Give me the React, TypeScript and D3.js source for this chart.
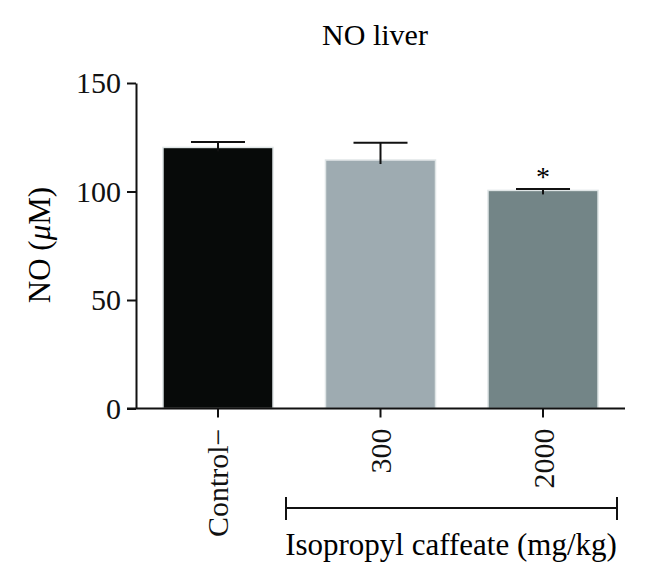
import React, { useEffect, useRef } from "react";
import * as d3 from "d3";

// Data
const groups = ["Control\u2212", "300", "2000"];
const means = [120.3, 114.5, 100.5];
const errors = [2.5, 8, 0.6];
const barColors = ["#070a09", "#9eabb1", "#738587"];
const significant = [false, false, true];
const yTicks = [0, 50, 100, 150];

const App = () => {
  const svgRef = useRef<SVGSVGElement | null>(null);

  useEffect(() => {
    if (!svgRef.current) return;

    const width = 646;
    const height = 584;
    const font = "'Liberation Serif', 'DejaVu Serif', serif";

    const svg = d3.select(svgRef.current);
    svg.selectAll("*").remove();
    svg
      .attr("width", width)
      .attr("height", height)
      .style("background", "#fff")
      .style("position", "absolute")
      .style("left", "0px")
      .style("top", "0px");

    const x = d3
      .scaleBand()
      .domain(groups)
      .range([136, 625])
      .paddingInner(0.323)
      .paddingOuter(0.166);

    const y = d3.scaleLinear().domain([0, 150]).range([408.5, 83]);

    // title
    svg
      .append("text")
      .attr("x", 375)
      .attr("y", 45)
      .attr("text-anchor", "middle")
      .style("font-family", font)
      .style("font-size", "30px")
      .text("NO liver");

    // bars
    svg
      .selectAll(".bar")
      .data(groups)
      .enter()
      .append("rect")
      .attr("x", (d) => x(d)!)
      .attr("y", (d, i) => y(means[i]))
      .attr("width", x.bandwidth())
      .attr("height", (d, i) => y(0) - y(means[i]))
      .attr("fill", (d, i) => barColors[i])
      .attr("stroke", "#dfe5e6")
      .attr("stroke-width", 1.5);

    // error bars (upper half)
    const capW = 54;
    groups.forEach((g, i) => {
      const cx = x(g)! + x.bandwidth() / 2;
      const top = y(means[i] + errors[i]);
      svg
        .append("line")
        .attr("x1", cx)
        .attr("x2", cx)
        .attr("y1", y(means[i]) + 4)
        .attr("y2", top)
        .attr("stroke", "#111")
        .attr("stroke-width", 2);
      svg
        .append("line")
        .attr("x1", cx - capW / 2)
        .attr("x2", cx + capW / 2)
        .attr("y1", top)
        .attr("y2", top)
        .attr("stroke", "#111")
        .attr("stroke-width", 2);
      if (significant[i]) {
        svg
          .append("text")
          .attr("x", cx)
          .attr("y", top - 3)
          .attr("text-anchor", "middle")
          .style("font-family", font)
          .style("font-size", "28px")
          .text("*");
      }
    });

    // y axis
    const yAxis = svg
      .append("g")
      .attr("transform", "translate(136,0)")
      .call(d3.axisLeft(y).tickValues(yTicks).tickSize(9).tickSizeOuter(0).tickPadding(6));
    yAxis.select(".domain").attr("stroke", "#111").attr("stroke-width", 2);
    yAxis.selectAll(".tick line").attr("stroke", "#111").attr("stroke-width", 2);
    yAxis
      .selectAll(".tick text")
      .attr("fill", "#111")
      .style("font-family", font)
      .style("font-size", "30px");

    // x axis
    const xAxis = svg
      .append("g")
      .attr("transform", `translate(0,${y(0)})`)
      .call(d3.axisBottom(x).tickSize(9).tickSizeOuter(0));
    xAxis.select(".domain").remove();
    xAxis.selectAll(".tick line").attr("stroke", "#111").attr("stroke-width", 2);
    xAxis
      .selectAll(".tick text")
      .attr("fill", "#111")
      .attr("transform", "rotate(-90)")
      .attr("text-anchor", "end")
      .attr("x", -20)
      .attr("y", 0)
      .attr("dy", "0.35em")
      .style("font-family", font)
      .style("font-size", "30px");
    svg
      .append("line")
      .attr("x1", 127)
      .attr("x2", 625)
      .attr("y1", y(0))
      .attr("y2", y(0))
      .attr("stroke", "#111")
      .attr("stroke-width", 2);

    // y label
    const yLabel = svg
      .append("text")
      .attr("transform", "translate(50,245) rotate(-90)")
      .attr("text-anchor", "middle")
      .style("font-family", font)
      .style("font-size", "31px");
    yLabel.append("tspan").text("NO (");
    yLabel.append("tspan").style("font-style", "italic").text("\u03bc");
    yLabel.append("tspan").text("M)");

    // dose bracket
    const bx1 = 286;
    const bx2 = 617;
    const by = 508;
    svg
      .append("path")
      .attr("d", `M${bx1},${by - 11}V${by + 12}M${bx1},${by}H${bx2}M${bx2},${by - 11}V${by + 12}`)
      .attr("fill", "none")
      .attr("stroke", "#111")
      .attr("stroke-width", 2);
    svg
      .append("text")
      .attr("x", 451)
      .attr("y", 555)
      .attr("text-anchor", "middle")
      .style("font-family", font)
      .style("font-size", "31px")
      .text("Isopropyl caffeate (mg/kg)");
  }, []);

  return <svg ref={svgRef}></svg>;
};

export default App;
